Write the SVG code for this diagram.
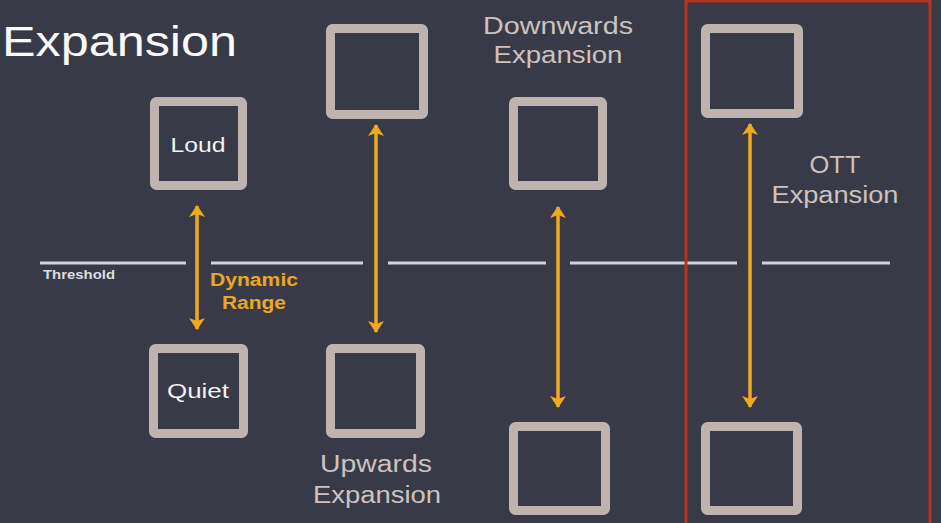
<svg xmlns="http://www.w3.org/2000/svg" width="941" height="523" viewBox="0 0 941 523">
<style>
.box{fill:none;stroke:#bfb3af;stroke-width:9}
.thr{stroke:#d2d3da;stroke-width:3}
.arr{stroke:#f0a81c;stroke-width:3.5;marker-start:url(#ah);marker-end:url(#ah)}
text{font-family:"Liberation Sans",Arial,sans-serif}
.lbl{fill:#cdc2bf;font-size:23px;text-anchor:middle}
.inner{fill:#f2f2f2;font-size:21px;text-anchor:middle}
.dyn{fill:#eaa822;font-size:18px;font-weight:bold}
</style>
<defs>
<marker id="ah" viewBox="0 0 12 18" refX="11" refY="9" markerWidth="12" markerHeight="18" markerUnits="userSpaceOnUse" orient="auto-start-reverse">
<path d="M0,1 L12,9 L0,17 L3,9 Z" fill="#f0a81c"/>
</marker>
</defs>
<rect width="941" height="523" fill="#383b47"/>
<text x="2" y="56" fill="#fafafa" font-size="42" textLength="235" lengthAdjust="spacingAndGlyphs">Expansion</text>
<g id="threshold">
<line class="thr" x1="40" y1="263" x2="186" y2="263"/>
<line class="thr" x1="211" y1="263" x2="363" y2="263"/>
<line class="thr" x1="388" y1="263" x2="546" y2="263"/>
<line class="thr" x1="570" y1="263" x2="737" y2="263"/>
<line class="thr" x1="762" y1="263" x2="890" y2="263"/>
<text x="43" y="279" fill="#dcdde2" font-size="13" font-weight="bold" textLength="72" lengthAdjust="spacingAndGlyphs">Threshold</text>
</g>
<g id="ott-frame"><rect x="686" y="1" width="244" height="540" fill="none" stroke="#b5341c" stroke-width="3"/></g>
<g id="loud"><rect class="box" x="154.5" y="101.5" width="88" height="84" rx="2"/><text class="inner" x="198" y="152" textLength="55" lengthAdjust="spacingAndGlyphs">Loud</text></g>
<g id="quiet"><rect class="box" x="153.5" y="348.5" width="90" height="85" rx="2"/><text class="inner" x="198" y="398" textLength="62" lengthAdjust="spacingAndGlyphs">Quiet</text></g>
<g id="up-top"><rect class="box" x="330.5" y="28.5" width="93" height="86" rx="2"/></g>
<g id="up-bottom"><rect class="box" x="330.5" y="348.5" width="90" height="85" rx="2"/></g>
<g id="down-top"><rect class="box" x="513.5" y="101.5" width="89" height="84" rx="2"/></g>
<g id="down-bottom"><rect class="box" x="513.5" y="426.5" width="92" height="84" rx="2"/></g>
<g id="ott-top"><rect class="box" x="705.5" y="28.5" width="93" height="85" rx="2"/></g>
<g id="ott-bottom"><rect class="box" x="705.5" y="426.5" width="92" height="84" rx="2"/></g>
<g id="connectors">
<line class="arr" x1="197" y1="206" x2="197" y2="329"/>
<line class="arr" x1="376" y1="125" x2="376" y2="332"/>
<line class="arr" x1="558" y1="207" x2="558" y2="407"/>
<line class="arr" x1="750" y1="124" x2="750" y2="407"/>
</g>
<g id="labels">
<text class="dyn" x="210" y="286" textLength="88" lengthAdjust="spacingAndGlyphs">Dynamic</text>
<text class="dyn" x="222" y="309" textLength="64" lengthAdjust="spacingAndGlyphs">Range</text>
<text class="lbl" x="376" y="472" textLength="112" lengthAdjust="spacingAndGlyphs">Upwards</text>
<text class="lbl" x="377" y="503" textLength="128" lengthAdjust="spacingAndGlyphs">Expansion</text>
<text class="lbl" x="558" y="34" textLength="150" lengthAdjust="spacingAndGlyphs">Downwards</text>
<text class="lbl" x="558" y="63" textLength="129" lengthAdjust="spacingAndGlyphs">Expansion</text>
<text class="lbl" x="835" y="173" textLength="51" lengthAdjust="spacingAndGlyphs">OTT</text>
<text class="lbl" x="835" y="203" textLength="127" lengthAdjust="spacingAndGlyphs">Expansion</text>
</g>
</svg>
